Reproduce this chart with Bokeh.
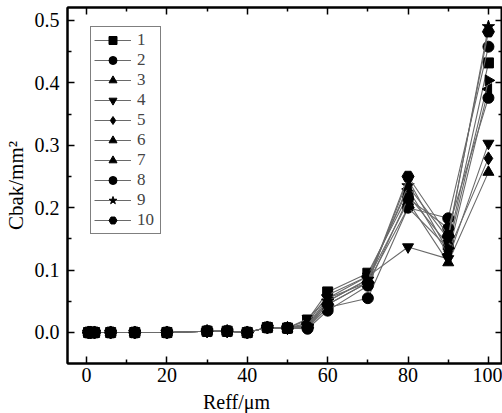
import math
from bokeh.plotting import figure
from bokeh.models import Range1d, LinearAxis, Label, Legend, FixedTicker
from bokeh.embed import file_html
from bokeh.resources import INLINE

reff = [0.5, 1, 2, 6, 12, 20, 30, 35, 40, 45, 50, 55, 60, 70, 80, 90, 100]

s1 = [0, 0, 0, 0, 0, 0, 0.002, 0.002, 0, 0.008, 0.007, 0.020, 0.065, 0.095, 0.220, 0.140, 0.432]
s2 = [0, 0, 0, 0, 0, 0, 0.002, 0.002, 0, 0.008, 0.007, 0.008, 0.040, 0.055, 0.200, 0.183, 0.458]
s3 = [0, 0, 0, 0, 0, 0, 0.002, 0.002, 0, 0.008, 0.007, 0.012, 0.050, 0.085, 0.210, 0.112, 0.257]
s4 = [0, 0, 0, 0, 0, 0, 0.002, 0.002, 0, 0.008, 0.007, 0.022, 0.055, 0.090, 0.137, 0.118, 0.303]
s5 = [0, 0, 0, 0, 0, 0, 0.002, 0.002, 0, 0.008, 0.007, 0.010, 0.045, 0.080, 0.245, 0.130, 0.279]
s6 = [0, 0, 0, 0, 0, 0, 0.002, 0.002, 0, 0.008, 0.007, 0.015, 0.060, 0.090, 0.230, 0.125, 0.390]
s7 = [0, 0, 0, 0, 0, 0, 0.002, 0.002, 0, 0.008, 0.007, 0.012, 0.055, 0.080, 0.200, 0.135, 0.404]
s8 = [0, 0, 0, 0, 0, 0, 0.002, 0.002, 0, 0.008, 0.007, 0.006, 0.035, 0.075, 0.215, 0.167, 0.376]
s9 = [0, 0, 0, 0, 0, 0, 0.002, 0.002, 0, 0.008, 0.007, 0.010, 0.050, 0.085, 0.235, 0.150, 0.490]
s10 = [0, 0, 0, 0, 0, 0, 0.002, 0.002, 0, 0.008, 0.007, 0.008, 0.045, 0.080, 0.250, 0.155, 0.482]

series = [s1, s2, s3, s4, s5, s6, s7, s8, s9, s10]
names = ["1", "2", "3", "4", "5", "6", "7", "8", "9", "10"]
markers = ["square", "circle", "triangle", "inverted_triangle", "diamond",
           "triangle", "triangle", "circle", "star", "hex"]
angles = [0, 0, 0, 0, 0, math.pi / 2, -math.pi / 2, 0, 0, 0]
sizes = [10, 11, 11, 11, 13, 11, 11, 11, 13, 12]

x_ticks = [0, 20, 40, 60, 80, 100]
y_ticks = [0.0, 0.1, 0.2, 0.3, 0.4, 0.5]
x_minor = [10, 30, 50, 70, 90]
y_minor = [0.05, 0.15, 0.25, 0.35, 0.45]

x_title = "Reff/μm"
y_title = "Cbak/mm²"

FONT = "Liberation Serif"

p = figure(width=502, height=413, output_backend="svg", toolbar_location=None,
           x_range=Range1d(-4.73, 103.5), y_range=Range1d(-0.0497, 0.5208),
           min_border_left=67, min_border_right=0, min_border_top=7, min_border_bottom=50)
p.grid.visible = False
p.outline_line_color = "black"
p.outline_line_width = 2
p.background_fill_color = "white"
p.border_fill_color = "white"

items = []
for s, n, m, a, sz in zip(series, names, markers, angles, sizes):
    r1 = p.line(reff, s, line_color="#6a6a6a", line_width=1.1)
    r2 = p.scatter(reff, s, marker=m, angle=a, size=sz, fill_color="black", line_color="black")
    items.append((n, [r1, r2]))

legend = Legend(items=items, location=(23, 129), padding=3, spacing=0, margin=0,
                glyph_width=37, glyph_height=20, label_height=20, label_standoff=6,
                label_text_font=FONT, label_text_font_size="17px",
                border_line_color="black", border_line_width=1,
                background_fill_color="white", background_fill_alpha=1)
p.add_layout(legend, "center")


def style_axis(ax, labels=True):
    ax.axis_line_width = 2
    ax.axis_line_color = "black"
    ax.major_tick_in = 7
    ax.major_tick_out = 0
    ax.minor_tick_in = 4
    ax.minor_tick_out = 0
    ax.major_tick_line_width = 1.5
    ax.minor_tick_line_width = 1.5
    ax.major_tick_line_color = "black"
    ax.minor_tick_line_color = "black"
    ax.major_label_text_font = FONT
    if labels:
        ax.major_label_text_font_size = "20px"
        ax.major_label_text_color = "black"
    else:
        ax.major_label_text_font_size = "1px"
        ax.major_label_text_color = None
        ax.major_label_standoff = 0


p.xaxis.ticker = FixedTicker(ticks=x_ticks, minor_ticks=x_minor)
p.yaxis.ticker = FixedTicker(ticks=y_ticks, minor_ticks=y_minor)
p.xaxis.major_label_overrides = {t: str(t) for t in x_ticks}
p.yaxis.major_label_overrides = {t: f"{t:.1f}" for t in y_ticks}
style_axis(p.xaxis[0])
style_axis(p.yaxis[0])
p.xaxis.major_label_standoff = 4
p.yaxis.major_label_standoff = 8

# y-axis title on the axis itself
p.yaxis.axis_label = y_title
p.yaxis.axis_label_text_font = FONT
p.yaxis.axis_label_text_font_size = "21px"
p.yaxis.axis_label_text_font_style = "normal"
p.yaxis.axis_label_text_color = "black"
p.yaxis.axis_label_standoff = 4

top = LinearAxis(ticker=FixedTicker(ticks=x_ticks, minor_ticks=x_minor))
style_axis(top, labels=False)
p.add_layout(top, "above")

right = LinearAxis(ticker=FixedTicker(ticks=y_ticks, minor_ticks=y_minor))
style_axis(right, labels=False)
right.axis_line_color = None
p.add_layout(right, "right")

# x-axis title in its own panel below the axis
p.add_layout(Label(x=169, y=5, x_units="screen", y_units="screen", text=x_title,
                   text_font=FONT, text_font_size="20px", text_align="center",
                   text_baseline="alphabetic", text_color="black"), "below")

open("out.html", "w").write(file_html(p, INLINE))
